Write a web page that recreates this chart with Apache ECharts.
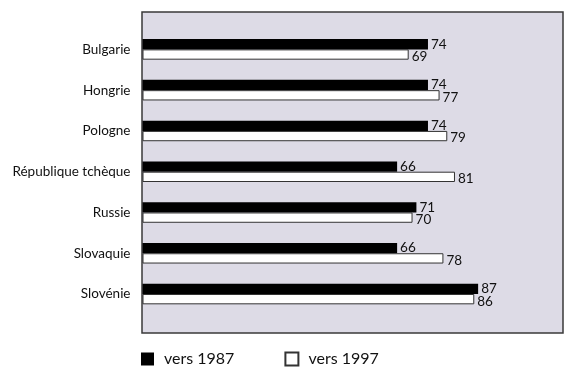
<!DOCTYPE html>
<html>
<head>
<meta charset="utf-8">
<script src="https://cdn.jsdelivr.net/npm/echarts@6/dist/echarts.min.js"></script>
<style>
  html, body { margin: 0; padding: 0; background: #ffffff; }
  #chart { width: 567px; height: 369px; }
</style>
</head>
<body>
<div id="chart"></div>
<script>
// Countries, top to bottom
const countries = ['Bulgarie', 'Hongrie', 'Pologne', 'République tchèque', 'Russie', 'Slovaquie', 'Slovénie'];
// Values around 1987 and around 1997
const values1987 = [74, 74, 74, 66, 71, 66, 87];
const values1997 = [69, 77, 79, 81, 70, 78, 86];
const seriesNames = ['vers 1987', 'vers 1997'];

const FONT = 'Lato';
const chart = echarts.init(document.getElementById('chart'), null, { renderer: 'canvas' });

const labelStyle = {
  show: true,
  position: 'right',
  distance: 3,
  color: '#111',
  fontFamily: FONT,
  fontSize: 13.5
};

chart.setOption({
  animation: false,
  grid: [
    // framed lavender panel
    { left: 142, top: 12, right: 4, bottom: 36, show: true,
      backgroundColor: '#dddbe6', borderColor: '#3a3a3a', borderWidth: 1.5, containLabel: false },
    // bar area inside the panel
    { left: 142.5, top: 29, right: 4, bottom: 54.6, containLabel: false }
  ],
  legend: {
    left: 136, top: 346,
    itemWidth: 13, itemHeight: 13, itemGap: 50,
    icon: 'rect',
    textStyle: { fontFamily: FONT, fontSize: 16, color: '#111', padding: [0, 0, 0, 5] },
    data: seriesNames
  },
  xAxis: [
    { gridIndex: 0, type: 'value', min: 0, max: 1, show: false },
    { gridIndex: 1, type: 'value', min: 0, max: 109, show: false }
  ],
  yAxis: [
    { gridIndex: 0, type: 'value', min: 0, max: 1, show: false },
    {
      gridIndex: 1,
      type: 'category',
      inverse: true,
      data: countries,
      axisLine: { show: false },
      axisTick: { show: false },
      splitLine: { show: false },
      axisLabel: { fontFamily: FONT, fontSize: 13.5, color: '#111', margin: 12 }
    }
  ],
  series: [
    {
      name: seriesNames[0],
      type: 'bar',
      xAxisIndex: 1, yAxisIndex: 1,
      data: values1987,
      barWidth: 10.3,
      barGap: '0%',
      itemStyle: { color: '#000000', borderColor: '#000000', borderWidth: 0 },
      label: labelStyle
    },
    {
      name: seriesNames[1],
      type: 'bar',
      xAxisIndex: 1, yAxisIndex: 1,
      data: values1997,
      barWidth: 10.3,
      barGap: '0%',
      itemStyle: { color: '#ffffff', borderColor: '#333333', borderWidth: 1 },
      label: Object.assign({}, labelStyle, { offset: [0, 2] })
    }
  ]
});
</script>
</body>
</html>
